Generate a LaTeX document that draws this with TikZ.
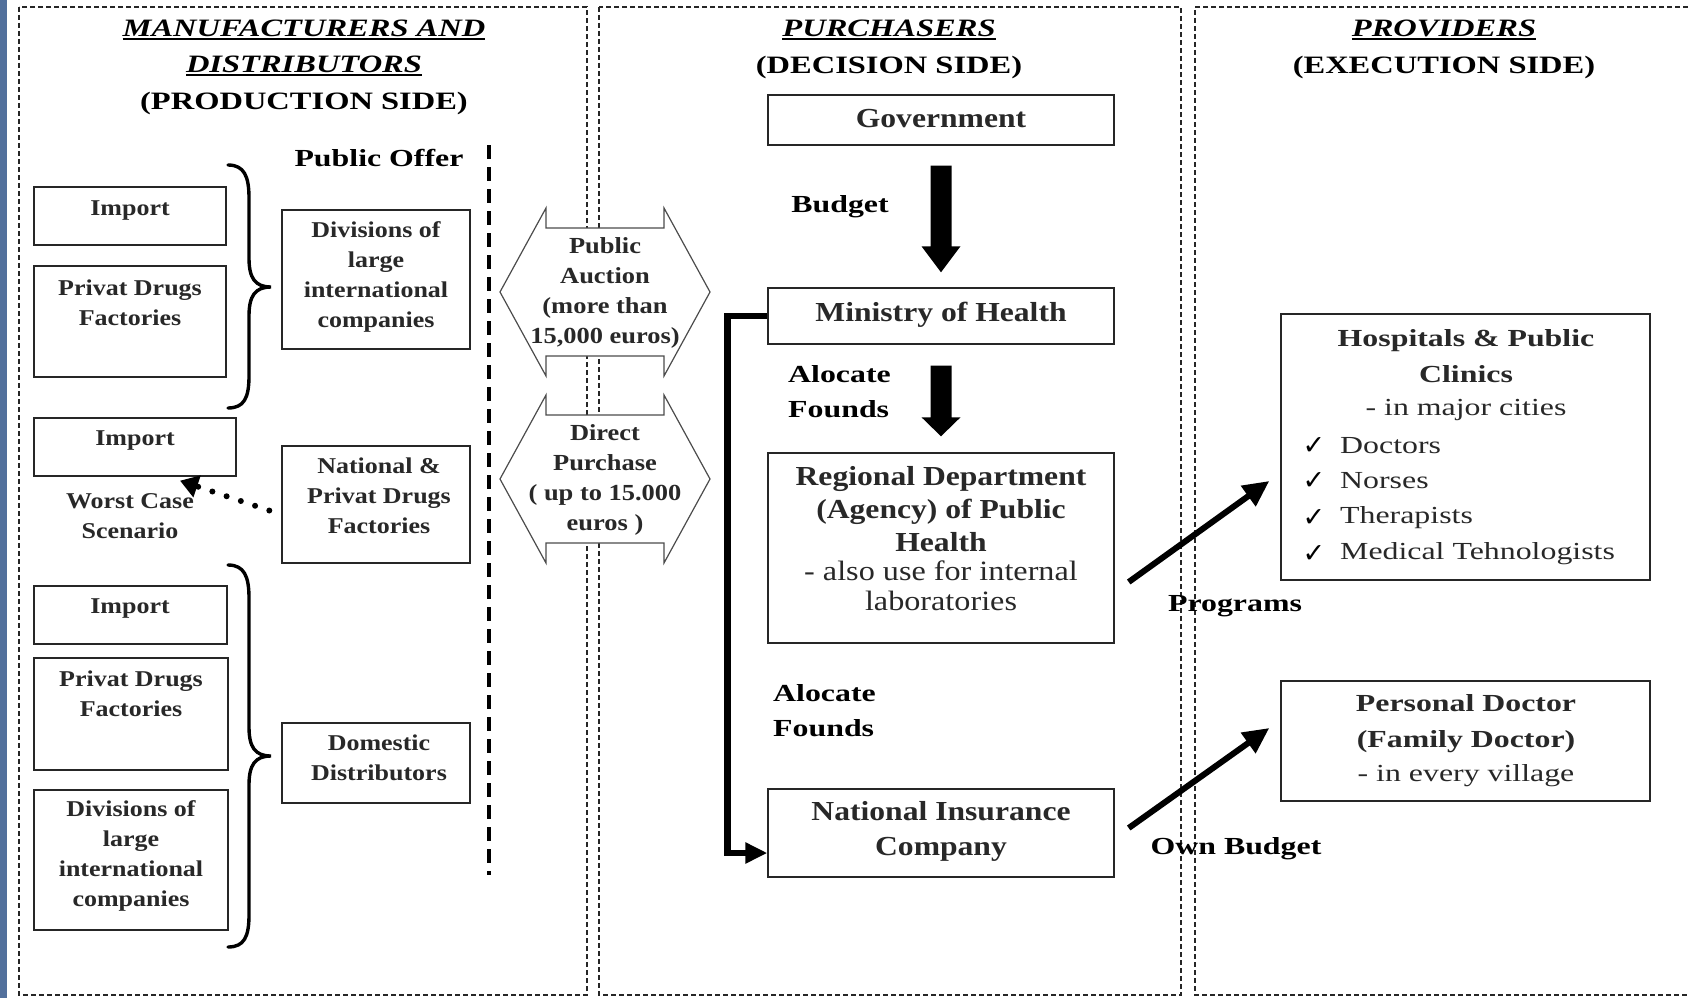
\documentclass[tikz,border=0pt]{standalone}
\usepackage{fontspec}
\setmainfont{Liberation Serif}[FakeStretch=1.15]
\newfontfamily\wfont{Liberation Serif}[FakeStretch=1.3]
\newfontfamily\chkfont{DejaVu Sans}
\usetikzlibrary{arrows.meta,calc,fit}
\definecolor{stripblue}{RGB}{82,112,156}
\definecolor{ink}{RGB}{40,40,40}
\newsavebox\ulbx
\newcommand\myul[1]{\sbox\ulbx{#1}\rlap{\usebox\ulbx}\rule[-4pt]{\wd\ulbx}{1.8pt}}
\newcommand\fsBox{\fontsize{22.6}{30}\selectfont\bfseries}
\newcommand\fsMid{\fontsize{27.5}{33}\selectfont\bfseries}
\newcommand\fsNic{\fontsize{27.5}{35}\selectfont\bfseries}
\newcommand\fsRegl{\fontsize{28}{30}\selectfont}
\newcommand\fsHex{\fontsize{23}{30}\selectfont\bfseries}
\newcommand\fsTitle{\wfont\fontsize{25}{36}\selectfont\bfseries}
\newcommand\fsLab{\wfont\fontsize{24.5}{35}\selectfont\bfseries}
\newcommand\fsProvB{\wfont\fontsize{24.5}{36}\selectfont\bfseries}
\newcommand\fsProv{\wfont\fontsize{24.5}{36}\selectfont}
\begin{document}
\begin{tikzpicture}[x=1pt,y=-1pt,
  box/.style={draw=black!85, line width=1.4pt, inner sep=0pt},
  border/.style={draw=black!85, line width=1.2pt, dash pattern=on 5pt off 3pt},
  btxt/.style={font=\fsBox, text=ink, align=center, inner sep=0pt},
  mtxt/.style={font=\fsMid, text=ink, align=center, inner sep=0pt},
  ttxt/.style={font=\fsTitle, align=center, inner sep=0pt},
  lab/.style={font=\fsLab, align=left, inner sep=0pt},
  hexs/.style={draw=black!70, line width=1.2pt, fill=white, line join=miter},
  htxt/.style={font=\fsHex, text=ink, align=center, inner sep=0pt},
  pbold/.style={font=\fsProvB, text=ink, align=center, inner sep=0pt},
  preg/.style={font=\fsProv, text=ink, align=left, inner sep=0pt},
  chk/.style={font=\chkfont\fontsize{27}{30}\selectfont, inner sep=0pt},
  brc/.style={line width=3.4pt, line cap=round},
  conn/.style={line width=6pt, -{Triangle[width=24pt,length=26pt]}},
  elb/.style={line width=6.5pt, line join=miter, -{Triangle[width=20pt,length=22pt]}},
  dotarr/.style={line width=6pt, line cap=round, dash pattern=on 0pt off 15pt, -{Triangle[width=22pt,length=18pt]}},
  bigarr/.style={fill=black}
]
\useasboundingbox (0,0) rectangle (1688,998);
\fill[white] (0,0) rectangle (1688,998);
\fill[stripblue] (0,0) rectangle (7,998);

% panels
\draw[border] (19,7) rectangle (587,995);
\draw[border] (599,7) rectangle (1181,995);
\draw[border] (1688,7) -- (1195,7) -- (1195,995) -- (1688,995);

% titles
\node[ttxt] (t1a) at (304,30) {\myul{\itshape MANUFACTURERS AND}};
\node[ttxt] (t1b) at (304,66) {\myul{\itshape DISTRIBUTORS}};
\node[ttxt] (t1c) at (304,103) {(PRODUCTION SIDE)};
\node[ttxt] (t2a) at (889,30) {\myul{\itshape PURCHASERS}};
\node[ttxt] (t2b) at (889,67) {(DECISION SIDE)};
\node[ttxt] (t3a) at (1444,30) {\myul{\itshape PROVIDERS}};
\node[ttxt] (t3b) at (1444,67) {(EXECUTION SIDE)};

% left panel
\draw[line width=4pt, dash pattern=on 14pt off 8pt] (489,145) -- (489,875);
\node[lab] (poffer) at (379,158) {Public Offer};

\node[box, fit={(34,187) (226,245)}] (imp1) {};
\node[btxt] (imp1t) at (130,211) {Import};
\node[box, fit={(34,266) (226,377)}] (pdf1) {};
\node[btxt] (pdf1t) at (130,303) {Privat Drugs\\Factories};
\draw[brc] (228,165) .. controls (244,165) and (249,176) .. (249,198) -- (249,258) .. controls (249,278) and (255,287) .. (271,287) .. controls (255,287) and (249,296) .. (249,316) -- (249,376) .. controls (249,398) and (244,408) .. (228,408);
\node[box, fit={(282,210) (470,349)}] (div1) {};
\node[btxt] (div1t) at (376,277) {Divisions of\\large\\international\\companies};

\node[box, fit={(34,418) (236,476)}] (imp2) {};
\node[btxt] (imp2t) at (135,441) {Import};
\node[btxt] (worst) at (130,516) {Worst Case\\Scenario};
\node[box, fit={(282,446) (470,563)}] (nat) {};
\node[btxt] (natt) at (379,496) {National \&\\Privat Drugs\\Factories};
\draw[dotarr] ($(nat.west)+(-12,6)$) -- ($(imp2.south)+(45,4)$);

\node[box, fit={(34,586) (227,644)}] (imp3) {};
\node[btxt] (imp3t) at (130,608) {Import};
\node[box, fit={(34,658) (228,770)}] (pdf2) {};
\node[btxt] (pdf2t) at (131,694) {Privat Drugs\\Factories};
\node[box, fit={(34,790) (228,930)}] (div2) {};
\node[btxt] (div2t) at (131,856) {Divisions of\\large\\international\\companies};
\draw[brc] (228,565) .. controls (244,565) and (249,576) .. (249,598) -- (249,727) .. controls (249,747) and (255,756) .. (271,756) .. controls (255,756) and (249,765) .. (249,785) -- (249,915) .. controls (249,937) and (244,947) .. (228,947);
\node[box, fit={(282,723) (470,803)}] (dom) {};
\node[btxt] (domt) at (379,758) {Domestic\\Distributors};

% double arrows
\draw[hexs] (500,292) -- (546,208) -- (546,228) -- (664,228) -- (664,208) -- (710,292) -- (664,376) -- (664,356) -- (546,356) -- (546,376) -- cycle;
\node[htxt] (auction) at (605,293) {Public\\Auction\\(more than\\15,000 euros)};
\draw[hexs] (500,479) -- (546,395) -- (546,415) -- (664,415) -- (664,395) -- (710,479) -- (664,563) -- (664,543) -- (546,543) -- (546,563) -- cycle;
\node[htxt] (direct) at (605,480) {Direct\\Purchase\\( up to 15.000\\euros )};

% middle panel
\node[box, fit={(768,95) (1114,145)}] (gov) {};
\node[mtxt] (govt) at (941,119) {Government};
\node[box, fit={(768,288) (1114,344)}] (min) {};
\node[mtxt] (mint) at (941,315) {Ministry of Health};
\node[box, fit={(768,453) (1114,643)}] (reg) {};
\node[mtxt] (regt) at (941,509) {Regional Department\\(Agency) of Public\\Health};
\node[font=\fsRegl, text=ink, align=center, inner sep=0pt] (regt2) at (941,586) {- also use for internal\\laboratories};
\node[box, fit={(768,789) (1114,877)}] (nic) {};
\node[font=\fsNic, text=ink, align=center, inner sep=0pt] (nict) at (941,831) {National Insurance\\Company};

\fill[bigarr] ($(gov.south)+(-10.5,20)$) -- ($(min.north)+(-10.5,-41)$) -- ($(min.north)+(-19.5,-41)$) -- ($(min.north)+(0,-15)$) -- ($(min.north)+(19.5,-41)$) -- ($(min.north)+(10.5,-41)$) -- ($(gov.south)+(10.5,20)$) -- cycle;
\fill[bigarr] ($(min.south)+(-10.5,21)$) -- ($(reg.north)+(-10.5,-35)$) -- ($(reg.north)+(-19.5,-35)$) -- ($(reg.north)+(0,-16)$) -- ($(reg.north)+(19.5,-35)$) -- ($(reg.north)+(10.5,-35)$) -- ($(min.south)+(10.5,21)$) -- cycle;
\node[lab] (budget) at (840,207) {Budget};
\node[lab, anchor=west] (alo1) at (788,392) {Alocate\\Founds};
\node[lab, anchor=west] (alo2) at (773,711) {Alocate\\Founds};

\draw[elb] (min.west) -- ++(-40,0) |- ($(nic.west)+(0,20)$);

% right panel
\node[box, fit={(1281,314) (1650,580)}] (hosp) {};
\node[pbold] (hospt) at (1466,356) {Hospitals \& Public\\Clinics};
\node[preg] (hospc) at (1466,410) {- in major cities};
\node[chk] (c1) at (1314,446) {✓};
\node[chk] (c2) at (1314,481) {✓};
\node[chk] (c3) at (1314,518) {✓};
\node[chk] (c4) at (1314,554) {✓};
\node[preg, anchor=west] (l1) at (1340,446) {Doctors};
\node[preg, anchor=west] (l2) at (1340,481) {Norses};
\node[preg, anchor=west] (l3) at (1340,518) {Therapists};
\node[preg, anchor=west] (l4) at (1340,554) {Medical Tehnologists};

\node[box, fit={(1281,681) (1650,801)}] (pers) {};
\node[pbold] (perst) at (1466,724) {Personal Doctor\\(Family Doctor)};
\node[preg] (persv) at (1466,776) {- in every village};

\draw[conn] ($(reg.east)+(14,34)$) -- ($(hosp.west)+(-11,34)$);
\draw[conn] ($(nic.east)+(14,-5)$) -- ($(pers.west)+(-11,-13)$);
\node[lab] (prog) at (1235,606) {Programs};
\node[lab] (own) at (1236,849) {Own Budget};
\end{tikzpicture}
\end{document}
